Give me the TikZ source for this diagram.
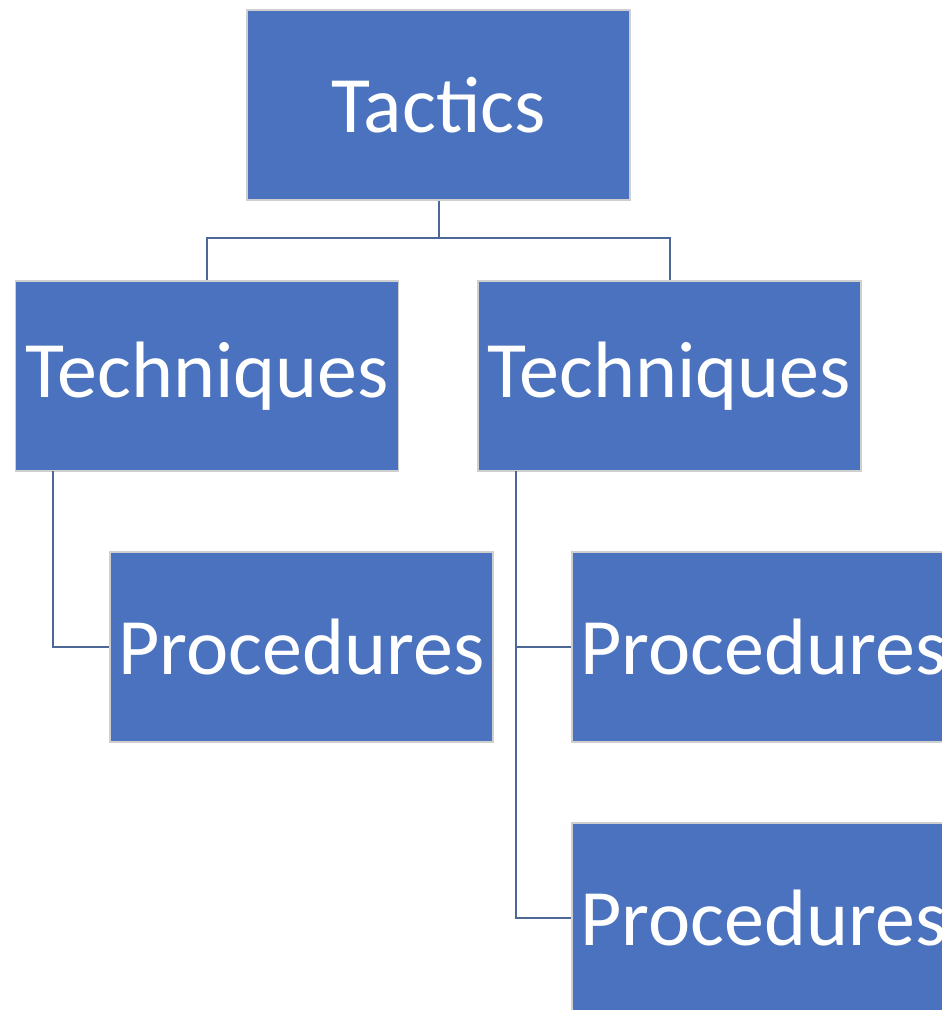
\documentclass[tikz,border=0pt]{standalone}
\usepackage{fontspec}
\setmainfont{Carlito}
\definecolor{boxblue}{HTML}{4A72BE}
\definecolor{boxedge}{HTML}{CFCFCF}
\definecolor{linkcol}{HTML}{4D6797}
\begin{document}
\begin{tikzpicture}[x=1pt,y=-1pt,
  box/.style={draw=boxedge,line width=1.5pt,fill=boxblue,text=white,
    minimum width=383pt,minimum height=190pt,inner sep=0pt,
    font=\fontsize{80}{80}\selectfont},
  link/.style={draw=linkcol,line width=2pt}]
\useasboundingbox (0,0) rectangle (942,1010);
\clip (0,0) rectangle (942,1010);
\node[box] (tac) at (438.5,105) {Tactics};
\node[box] (tec1) at (207,376) {Techniques};
\node[box] (tec2) at (669.5,376) {Techniques};
\node[box] (pro1) at (301.5,647) {Procedures};
\node[box] (pro2) at (763.5,647) {Procedures};
\node[box] (pro3) at (763.5,918) {Procedures};
\coordinate (hub) at (438.5,238);
\draw[link] (tac.south) -- (hub);
\draw[link] (hub) -| (tec1.north);
\draw[link] (hub) -| (tec2.north);
\coordinate (l1) at (53,471);
\draw[link] (l1) |- (pro1.west);
\coordinate (l2) at (516,471);
\draw[link] (l2) |- (pro3.west);
\draw[link] (pro2.west) -- (516,647);
\end{tikzpicture}
\end{document}
